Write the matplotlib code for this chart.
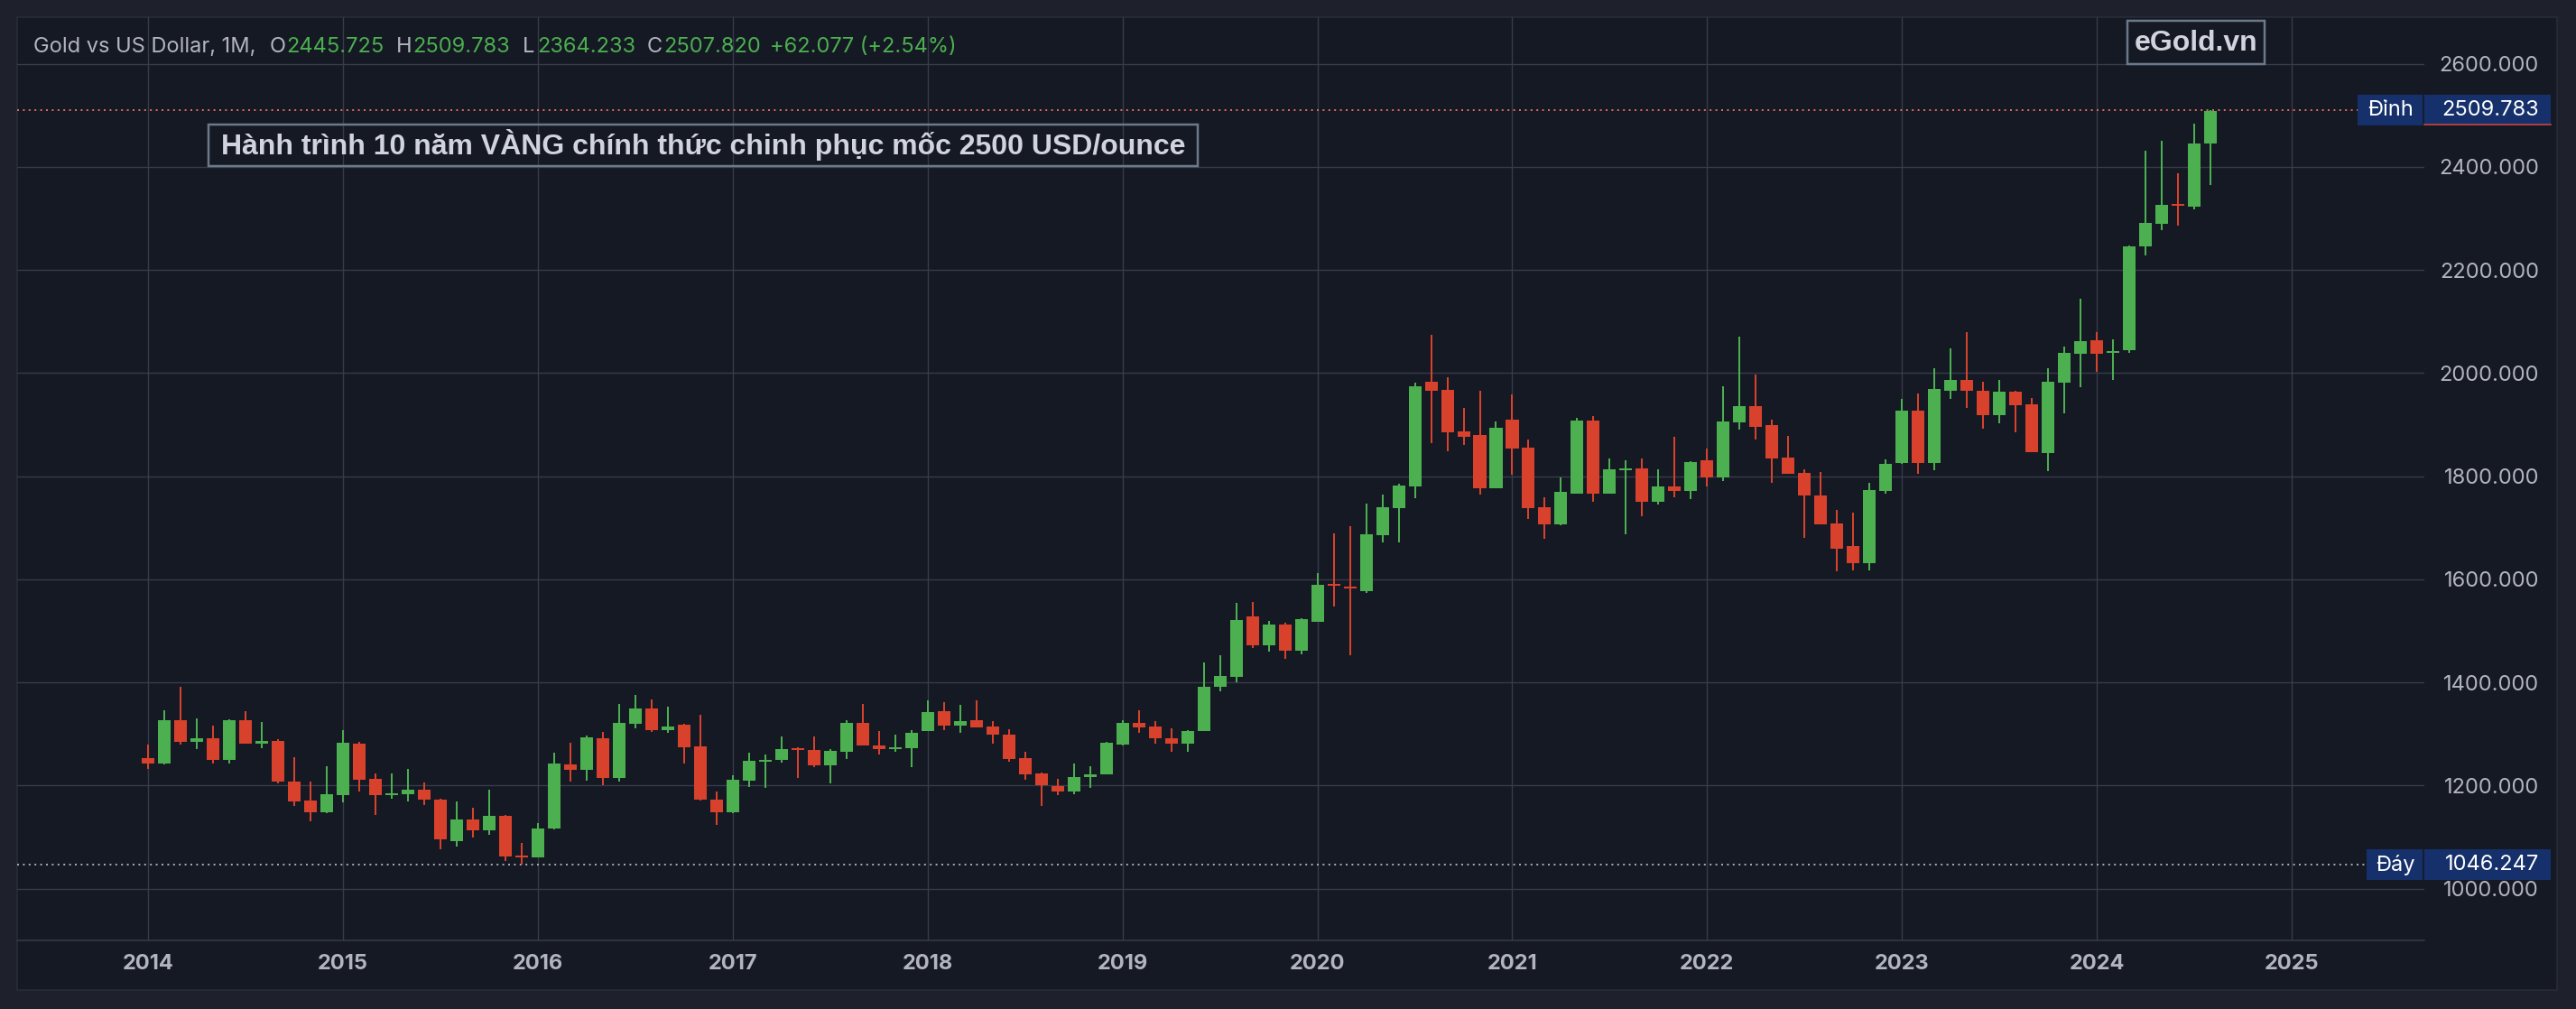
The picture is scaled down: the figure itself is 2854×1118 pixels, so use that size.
import numpy as np
import matplotlib
matplotlib.use("Agg")
import matplotlib.pyplot as plt
from matplotlib.patches import Rectangle
from matplotlib.lines import Line2D
from matplotlib.transforms import blended_transform_factory

# ---------------- data (monthly XAUUSD, Jan 2014 .. Aug 2024) ----------------
years = [2014, 2015, 2016, 2017, 2018, 2019, 2020, 2021, 2022, 2023, 2024, 2025]

opens = [
    1253, 1243, 1327, 1284, 1292, 1249, 1327, 1282, 1287, 1208, 1171, 1148,
    1182, 1281, 1213, 1183, 1184, 1192, 1173, 1093, 1134, 1114, 1141, 1064,
    1061, 1116, 1241, 1231, 1292, 1215, 1320, 1350, 1308, 1318, 1276, 1173,
    1149, 1210, 1248, 1249, 1271, 1269, 1240, 1266, 1322, 1278, 1270, 1273,
    1306, 1344, 1317, 1327, 1315, 1299, 1253, 1223, 1199, 1189, 1216, 1222,
    1280, 1322, 1315, 1292, 1282, 1306, 1391, 1411, 1528, 1473, 1512, 1462,
    1518, 1591, 1586, 1578, 1686, 1739, 1781, 1983, 1968, 1887, 1880, 1777,
    1910, 1856, 1740, 1706, 1767, 1908, 1767, 1813, 1815, 1751, 1780, 1772,
    1831, 1797, 1905, 1936, 1899, 1836, 1807, 1763, 1709, 1664, 1632, 1772,
    1825, 1927, 1825, 1965, 1987, 1966, 1918, 1964, 1940, 1845, 1982, 2038,
    2064, 2040, 2044, 2245, 2289, 2327, 2323, 2445.725,
]
highs = [
    1280, 1346, 1392, 1330, 1316, 1329, 1344, 1323, 1290, 1255, 1208, 1238,
    1308, 1285, 1224, 1224, 1232, 1206, 1175, 1169, 1157, 1192, 1143, 1089,
    1127, 1264, 1283, 1297, 1304, 1358, 1376, 1367, 1353, 1320, 1337, 1189,
    1220, 1264, 1260, 1295, 1274, 1295, 1271, 1327, 1358, 1306, 1299, 1308,
    1365, 1362, 1357, 1365, 1325, 1309, 1266, 1226, 1213, 1243, 1238, 1285,
    1327, 1346, 1325, 1311, 1308, 1439, 1453, 1554, 1556, 1519, 1516, 1525,
    1612, 1689, 1703, 1747, 1765, 1786, 1982, 2074, 1992, 1933, 1966, 1906,
    1959, 1871, 1759, 1798, 1913, 1917, 1834, 1831, 1834, 1813, 1877, 1829,
    1854, 1975, 2071, 1997, 1910, 1878, 1814, 1808, 1735, 1730, 1787, 1833,
    1950, 1961, 2010, 2048, 2080, 1983, 1987, 1965, 1952, 2009, 2052, 2144,
    2080, 2066, 2248, 2431, 2451, 2388, 2484, 2509.783,
]
lows = [
    1233, 1241, 1280, 1270, 1243, 1242, 1281, 1273, 1205, 1161, 1131, 1147,
    1168, 1189, 1143, 1175, 1170, 1163, 1077, 1082, 1100, 1105, 1053, 1046.247,
    1061, 1115, 1207, 1210, 1200, 1207, 1311, 1304, 1302, 1242, 1171, 1123,
    1147, 1198, 1196, 1245, 1215, 1236, 1205, 1252, 1277, 1261, 1266, 1236,
    1306, 1308, 1303, 1312, 1282, 1247, 1212, 1161, 1182, 1184, 1196, 1222,
    1277, 1303, 1282, 1266, 1266, 1306, 1382, 1401, 1466, 1460, 1446, 1455,
    1518, 1548, 1452, 1573, 1671, 1671, 1758, 1865, 1849, 1861, 1765, 1777,
    1803, 1718, 1678, 1705, 1767, 1751, 1766, 1688, 1723, 1746, 1760, 1755,
    1781, 1790, 1891, 1872, 1788, 1804, 1681, 1706, 1615, 1618, 1618, 1767,
    1824, 1805, 1811, 1950, 1933, 1893, 1903, 1885, 1847, 1810, 1922, 1973,
    2003, 1986, 2040, 2229, 2277, 2286, 2318, 2364.233,
]
closes = [
    1243, 1327, 1284, 1292, 1249, 1327, 1282, 1287, 1207, 1170, 1148, 1183,
    1283, 1212, 1182, 1185, 1192, 1172, 1095, 1134, 1114, 1141, 1063, 1061,
    1117, 1242, 1231, 1294, 1215, 1322, 1350, 1308, 1315, 1275, 1172, 1149,
    1211, 1248, 1249, 1271, 1270, 1240, 1267, 1322, 1278, 1270, 1274, 1302,
    1343, 1317, 1325, 1313, 1298, 1252, 1222, 1200, 1189, 1216, 1222, 1283,
    1322, 1313, 1291, 1282, 1306, 1392, 1413, 1521, 1473, 1512, 1462, 1523,
    1589, 1588, 1582, 1688, 1740, 1782, 1975, 1966, 1886, 1877, 1777, 1894,
    1854, 1739, 1706, 1770, 1908, 1767, 1814, 1815, 1751, 1780, 1772, 1828,
    1797, 1906, 1936, 1896, 1835, 1804, 1762, 1707, 1660, 1632, 1773, 1824,
    1927, 1825, 1969, 1987, 1965, 1919, 1964, 1938, 1847, 1983, 2040, 2062,
    2038, 2043, 2246, 2291, 2326, 2326, 2446, 2507.820,
]
price_ticks = [1000, 1200, 1400, 1600, 1800, 2000, 2200, 2400, 2600]
peak_value = 2509.783
trough_value = 1046.247

header_prefix = "Gold vs US Dollar, 1M,"
header_items = [("O", "2445.725"), ("H", "2509.783"), ("L", "2364.233"), ("C", "2507.820")]
header_change = "+62.077 (+2.54%)"
title_text = "Hành trình 10 năm VÀNG chính thức chinh phục mốc 2500 USD/ounce"
brand_text = "eGold.vn"
peak_label = "Đỉnh"
trough_label = "Đáy"

# ---------------- style ----------------
OUTER = "#1e212b"
INNER = "#151924"
BORDER = "#2a2e39"
GRID = "#383c48"
TXT = "#b2b5be"
GREEN = "#4caf50"
RED = "#d8412c"
BOXBLUE = "#15306a"
TITLECOL = "#d1d4dc"
BOXEDGE = "#6b7a8a"

plt.rcParams["font.family"] = ["Inter", "DejaVu Sans"]
BOLDFAM = ["Liberation Sans", "DejaVu Sans"]

W, H = 2854, 1118
fig = plt.figure(figsize=(W / 100, H / 100), dpi=100, facecolor=OUTER)


def fx(x):
    return x / W


def fy(y):
    return 1 - y / H


def px(p):  # pixels -> points
    return p * 0.72


fig.add_artist(Rectangle((fx(19), fy(1097)), fx(2833) - fx(19), fy(19) - fy(1097),
                         transform=fig.transFigure, fc=INNER, ec=BORDER,
                         lw=px(1.5), zorder=-10))

ax = fig.add_axes([fx(19), fy(1042), fx(2686) - fx(19), fy(19) - fy(1042)])
ax.set_facecolor("none")

o = np.array(opens, float)
h = np.array(highs, float)
l = np.array(lows, float)
c = np.array(closes, float)
idx = np.arange(len(o))
up = c >= o
cols = np.where(up, GREEN, RED)

ax.vlines(idx, l, h, colors=cols, lw=px(2), zorder=3)
minh = 3.5
body = np.abs(c - o)
mid = (o + c) / 2
bh = np.maximum(body, minh)
bb = mid - bh / 2
ax.bar(idx, bh, bottom=bb, width=0.78, color=cols, lw=0, zorder=4)

ax.set_xlim(-8.077, 140.17)
ax.set_ylim(899.7, 2690.5)

ax.set_xticks([12 * i for i in range(len(years))])
ax.set_xticklabels([str(y) for y in years])
ax.set_yticks(price_ticks)
ax.set_yticklabels([f"{v:.3f}" for v in price_ticks])
ax.yaxis.tick_right()
ax.tick_params(axis="x", length=0, pad=11, labelsize=17, labelcolor=TXT)
ax.tick_params(axis="y", length=0, pad=px(127), labelsize=17, labelcolor=TXT)
for lb in ax.get_xticklabels():
    lb.set_fontweight("bold")
for lb in ax.get_yticklabels():
    lb.set_horizontalalignment("right")

ax.grid(True, color=GRID, lw=px(1.4), zorder=0)
ax.set_axisbelow(True)
for s in ["top", "left", "right"]:
    ax.spines[s].set_visible(False)
ax.spines["bottom"].set_color(GRID)
ax.spines["bottom"].set_linewidth(px(1.5))

# dotted peak / trough lines
ax.axhline(peak_value, color="#dc6a5c", lw=px(2), ls=(0, (1, 2.2)), zorder=2)
ax.axhline(trough_value, color="#a3a6ae", lw=px(2), ls=(0, (1, 2.2)), zorder=2)

# price-scale markers
bt = blended_transform_factory(fig.transFigure, ax.transData)
ppx = 1 / 0.57125  # price units per pixel


def marker(value, left_px, label, underline):
    hh = 34 * ppx
    fig.add_artist(Rectangle((fx(left_px), value - hh / 2), fx(2826) - fx(left_px), hh,
                             transform=bt, fc=BOXBLUE, ec="none", zorder=5))
    fig.add_artist(Line2D([fx(2685), fx(2685)], [value - hh / 2, value + hh / 2],
                          transform=bt, color=INNER, lw=px(1.6), zorder=6))
    if underline:
        fig.add_artist(Line2D([fx(2686), fx(2826)], [value - hh / 2 + 0.8 * ppx] * 2,
                              transform=bt, color="#d0453a", lw=px(1.6), zorder=6))
    fig.text(fx((left_px + 2685) / 2), value, label, transform=bt, ha="center",
             va="center", fontsize=17, color="white", zorder=7)
    fig.text(fx(2813), value, f"{value:.3f}", transform=bt, ha="right",
             va="center", fontsize=17, color="white", zorder=7)


marker(peak_value, 2612, peak_label, True)
marker(trough_value, 2622, trough_label, False)

# header legend
hy = fy(51.7)
fig.text(fx(36.7), hy, header_prefix, ha="left", va="center", fontsize=17, color=TXT)
letter_x = [299, 439, 579, 717]
value_x = [317.7, 457, 595, 735]
for (k, v), lx, vx in zip(header_items, letter_x, value_x):
    fig.text(fx(lx), hy, k, ha="left", va="center", fontsize=17, color=TXT)
    fig.text(fx(vx), hy, v, ha="left", va="center", fontsize=17, color=GREEN)
fig.text(fx(853), hy, header_change, ha="left", va="center", fontsize=17, color=GREEN)

# title box
fig.add_artist(Rectangle((fx(231), fy(184)), fx(1327) - fx(231), fy(138) - fy(184),
                         transform=fig.transFigure, fc="none", ec=BOXEDGE,
                         lw=px(2.5), zorder=5))
fig.text(fx(779), fy(161), title_text, ha="center", va="center", fontsize=23,
         fontweight="bold", family=BOLDFAM, color=TITLECOL, zorder=6)

# brand box
fig.add_artist(Rectangle((fx(2356.5), fy(71)), fx(2509) - fx(2356.5), fy(23.3) - fy(71),
                         transform=fig.transFigure, fc="none", ec=BOXEDGE,
                         lw=px(2.5), zorder=5))
fig.text(fx(2432.7), fy(47.5), brand_text, ha="center", va="center", fontsize=23,
         fontweight="bold", family=BOLDFAM, color=TITLECOL, zorder=6)

fig.savefig("out.png", dpi=100, facecolor=OUTER)
